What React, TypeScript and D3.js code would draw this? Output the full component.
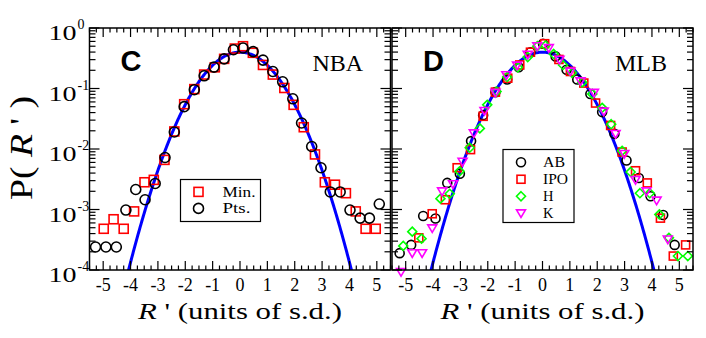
import React from "react";
import * as d3 from "d3";

// NBA panel (C): [R', P(R')]
const nbaMin: [number, number][] = [
  [-4.98, 0.00048], [-4.62, 0.00069], [-4.25, 0.00048], [-3.87, 0.00093],
  [-3.49, 0.00282], [-3.15, 0.00309], [-2.76, 0.00661], [-2.4, 0.0195],
  [-2.04, 0.055], [-1.67, 0.0977], [-1.31, 0.17], [-0.92, 0.224],
  [-0.58, 0.309], [-0.19, 0.457], [0.11, 0.5], [0.47, 0.389],
  [0.84, 0.245], [1.2, 0.17], [1.62, 0.102], [1.96, 0.0537],
  [2.33, 0.0229], [2.74, 0.00813], [3.1, 0.00282], [3.47, 0.00257],
  [3.87, 0.00186], [4.23, 0.00093], [4.59, 0.00048], [4.96, 0.00048],
];
const nbaPts: [number, number][] = [
  [-5.28, 0.00024], [-4.9, 0.00024], [-4.52, 0.00024], [-4.17, 0.00098],
  [-3.81, 0.00214], [-3.47, 0.00145], [-3.1, 0.00269], [-2.74, 0.00724],
  [-2.4, 0.0191], [-2.04, 0.0501], [-1.67, 0.0955], [-1.31, 0.162],
  [-0.95, 0.226], [-0.58, 0.309], [-0.24, 0.437], [0.11, 0.468],
  [0.48, 0.407], [0.84, 0.295], [1.2, 0.191], [1.56, 0.129],
  [1.93, 0.0676], [2.25, 0.0269], [2.62, 0.011], [2.96, 0.0049],
  [3.3, 0.00195], [3.66, 0.00195], [4.02, 0.00098], [4.39, 0.00072],
  [4.73, 0.00072], [5.09, 0.00123],
];

// MLB panel (D)
const mlbAB: [number, number][] = [
  [-5.22, 0.00019], [-4.8, 0.00026], [-4.36, 0.00078], [-3.91, 0.00071],
  [-3.48, 0.00275], [-3.02, 0.00389], [-2.61, 0.0135], [-2.17, 0.0363],
  [-1.72, 0.0871], [-1.29, 0.141], [-0.87, 0.224], [-0.44, 0.398],
  [0.02, 0.55], [0.48, 0.339], [0.88, 0.204], [1.27, 0.141],
  [1.75, 0.0813], [2.18, 0.0407], [2.63, 0.0178], [3.07, 0.00646],
  [3.52, 0.00331], [3.95, 0.00166], [4.41, 0.00081], [4.83, 0.00026],
];
const mlbIPO: [number, number][] = [
  [-4.52, 0.00034], [-4.03, 0.00085], [-3.55, 0.00145], [-3.12, 0.0049],
  [-2.63, 0.00977], [-2.17, 0.0347], [-1.72, 0.0871], [-1.27, 0.148],
  [-0.83, 0.245], [-0.44, 0.398], [0.08, 0.55], [0.6, 0.302],
  [1.02, 0.191], [1.51, 0.123], [1.94, 0.0575], [2.49, 0.0245],
  [2.91, 0.00891], [3.4, 0.00437], [3.83, 0.00275], [4.31, 0.00072],
  [4.78, 0.00017], [5.23, 0.00026],
];
const mlbH: [number, number][] = [
  [-5.09, 0.00025], [-4.76, 0.00043], [-4.42, 0.00033], [-3.73, 0.00151],
  [-3.39, 0.00182], [-3.03, 0.00427], [-2.66, 0.0105], [-2.29, 0.0219],
  [-2.02, 0.0537], [-1.68, 0.0891], [-1.29, 0.155], [-0.9, 0.224],
  [-0.54, 0.331], [-0.19, 0.501], [0.11, 0.513], [0.41, 0.372],
  [0.75, 0.245], [1.08, 0.182], [1.45, 0.126], [1.82, 0.0813],
  [2.18, 0.0479], [2.51, 0.0257], [2.91, 0.00933], [3.22, 0.00417],
  [3.56, 0.00186], [3.92, 0.00186], [4.27, 0.00083], [4.62, 0.00034],
  [4.95, 0.00017], [5.31, 0.00017],
];
const mlbK: [number, number][] = [
  [-5.17, 0.000093], [-4.76, 0.00019], [-4.4, 0.00019], [-4.03, 0.00049],
  [-3.67, 0.002], [-3.27, 0.00263], [-2.92, 0.00617], [-2.51, 0.0182],
  [-2.12, 0.0427], [-1.72, 0.0851], [-1.32, 0.166], [-0.93, 0.24],
  [-0.54, 0.363], [-0.19, 0.501], [0.23, 0.468], [0.62, 0.3],
  [1.02, 0.191], [1.39, 0.132], [1.88, 0.0851], [2.24, 0.0417],
  [2.67, 0.0178], [2.99, 0.00832], [3.4, 0.00309], [3.8, 0.002],
  [4.17, 0.00141], [4.58, 0.00032],
];

const xTicks = [-5, -4, -3, -2, -1, 0, 1, 2, 3, 4, 5];
const yTicks = [1e-4, 1e-3, 1e-2, 1e-1, 1];
const yExp = ["-4", "-3", "-2", "-1", "0"];

const serif = "Liberation Serif, Times New Roman, serif";
const sans = "Liberation Sans, Arial, sans-serif";

const yTop = 28;
const yBot = 270;
const y = d3.scaleLog().domain([1e-4, 1]).range([yBot, yTop]);

type Shape = "circle" | "square" | "diamond" | "tri";

function Marker({ shape, cx, cy, s, color }: { shape: Shape; cx: number; cy: number; s: number; color: string }) {
  const common = { fill: "none", stroke: color, strokeWidth: 1.6 };
  if (shape === "circle") return <circle cx={cx} cy={cy} r={s} {...common} />;
  if (shape === "square") return <rect x={cx - s} y={cy - s} width={2 * s} height={2 * s} {...common} />;
  if (shape === "diamond")
    return <path d={`M${cx},${cy - s}L${cx + s},${cy}L${cx},${cy + s}L${cx - s},${cy}Z`} {...common} />;
  return <path d={`M${cx - s},${cy - s * 0.75}L${cx + s},${cy - s * 0.75}L${cx},${cy + s * 0.95}Z`} {...common} />;
}

type Series = { data: [number, number][]; shape: Shape; s: number; color: string; label: string; lw?: number };

function Panel({ x0, x1, series, showYLabels, letter, name, legend, id }: {
  x0: number; x1: number; series: Series[]; showYLabels: boolean; letter: string; name: string;
  legend: { x: number; y: number; w: number; h: number; step: number; tx: number }; id: string;
}) {
  const x = d3.scaleLinear().domain([-5.5, 5.5]).range([x0, x1]);
  const minorX = d3.range(-5.5, 5.51, 0.25).filter((v) => Math.abs(v - Math.round(v)) > 0.01);
  const minorY: number[] = [];
  [1e-4, 1e-3, 1e-2, 1e-1].forEach((d) => d3.range(2, 10).forEach((k) => minorY.push(d * k)));
  // standard normal density
  const gauss = d3.range(-4.3, 4.301, 0.02).map((v) => [v, Math.exp((-v * v) / 2) / Math.sqrt(2 * Math.PI)] as [number, number]);
  const line = d3.line<[number, number]>().x((d) => x(d[0])).y((d) => y(d[1]));
  const mx = 4.5, Mx = 9, my = 6, My = 10;
  return (
    <g>
      <defs>
        <clipPath id={id}>
          <rect x={x0} y={yTop} width={x1 - x0} height={yBot - yTop} />
        </clipPath>
      </defs>
      <path d={line(gauss) ?? ""} fill="none" stroke="#0000ff" strokeWidth={3} clipPath={`url(#${id})`} />
      {series.map((se, i) => (
        <g key={i}>
          {se.data.map((d, j) => (
            <Marker key={j} shape={se.shape} cx={x(d[0])} cy={y(d[1])} s={se.s} color={se.color} />
          ))}
        </g>
      ))}
      <rect x={x0} y={yTop} width={x1 - x0} height={yBot - yTop} fill="none" stroke="#000" strokeWidth={1.5} />
      <g stroke="#000" strokeWidth={1.2}>
        {xTicks.map((t) => (
          <g key={t}>
            <line x1={x(t)} x2={x(t)} y1={yBot} y2={yBot - Mx} />
            <line x1={x(t)} x2={x(t)} y1={yTop} y2={yTop + Mx} />
          </g>
        ))}
        {minorX.map((t) => (
          <g key={t}>
            <line x1={x(t)} x2={x(t)} y1={yBot} y2={yBot - mx} />
            <line x1={x(t)} x2={x(t)} y1={yTop} y2={yTop + mx} />
          </g>
        ))}
        {yTicks.map((t) => (
          <g key={t}>
            <line x1={x0} x2={x0 + My} y1={y(t)} y2={y(t)} />
            <line x1={x1} x2={x1 - My} y1={y(t)} y2={y(t)} />
          </g>
        ))}
        {minorY.map((t) => (
          <g key={t}>
            <line x1={x0} x2={x0 + my} y1={y(t)} y2={y(t)} />
            <line x1={x1} x2={x1 - my} y1={y(t)} y2={y(t)} />
          </g>
        ))}
      </g>
      {xTicks.map((t) => (
        <text key={t} x={x(t)} y={291} style={{ fontFamily: serif, fontSize: 18 }} textAnchor="middle">
          {t < 0 ? `-${-t}` : t}
        </text>
      ))}
      {showYLabels &&
        yTicks.map((t, i) => (
          <g key={t}>
            <text x={x0 - 13} y={y(t) + 12} style={{ fontFamily: serif, fontSize: 20 }} textAnchor="end"
              textLength={28} lengthAdjust="spacingAndGlyphs">10</text>
            <text x={x0 - 12} y={y(t) + 1} style={{ fontFamily: serif, fontSize: 14 }}>{yExp[i]}</text>
          </g>
        ))}
      <text x={x(0)} y={319} style={{ fontFamily: serif, fontSize: 24 }} textAnchor="middle"
        textLength={204} lengthAdjust="spacingAndGlyphs">
        <tspan fontStyle="italic">R</tspan> ' (units of s.d.)
      </text>
      <text x={x0 + 31} y={71} style={{ fontFamily: sans, fontSize: 29, fontWeight: "bold" }}>{letter}</text>
      <text x={x1 - 78} y={71} style={{ fontFamily: serif, fontSize: 24 }}>{name}</text>
      <rect x={legend.x} y={legend.y} width={legend.w} height={legend.h} fill="#fff" stroke="#000" strokeWidth={1.2} />
      {series.map((se, i) => {
        const cy = legend.y + legend.step * (i + 0.75);
        return (
          <g key={se.label}>
            <Marker shape={se.shape} cx={legend.x + 18} cy={cy} s={se.s} color={se.color} />
            <text x={legend.x + legend.tx} y={cy + 5} style={{ fontFamily: serif, fontSize: 14.5 }}
              textLength={se.lw} lengthAdjust="spacingAndGlyphs">{se.label}</text>
          </g>
        );
      })}
    </g>
  );
}

export default function App() {
  const nbaSeries: Series[] = [
    { data: nbaMin, shape: "square", s: 4.5, color: "#ff0000", label: "Min.", lw: 33 },
    { data: nbaPts, shape: "circle", s: 5, color: "#000000", label: "Pts.", lw: 28 },
  ];
  const mlbSeries: Series[] = [
    { data: mlbAB, shape: "circle", s: 4.5, color: "#000000", label: "AB", lw: 22 },
    { data: mlbIPO, shape: "square", s: 4, color: "#ff0000", label: "IPO", lw: 25 },
    { data: mlbH, shape: "diamond", s: 4.5, color: "#00ff00", label: "H" },
    { data: mlbK, shape: "tri", s: 4.5, color: "#ff00ff", label: "K" },
  ];
  return (
    <svg width={706} height={338} style={{ position: "absolute", left: 0, top: 0, background: "#fff" }}>
      <rect width={706} height={338} fill="#fff" />
      <Panel id="clipC" x0={89.5} x1={390.5} series={nbaSeries} showYLabels letter="C" name="NBA"
        legend={{ x: 180.5, y: 179.5, w: 80, h: 42, step: 16.5, tx: 42 }} />
      <Panel id="clipD" x0={392} x1={693} series={mlbSeries} showYLabels={false} letter="D" name="MLB"
        legend={{ x: 503, y: 149.5, w: 71, h: 73, step: 17, tx: 40 }} />
      <text transform="translate(32,148) rotate(-90)" style={{ fontFamily: serif, fontSize: 32 }} textAnchor="middle"
        textLength={104} lengthAdjust="spacingAndGlyphs">
        P( <tspan fontStyle="italic">R</tspan> ' )
      </text>
    </svg>
  );
}
